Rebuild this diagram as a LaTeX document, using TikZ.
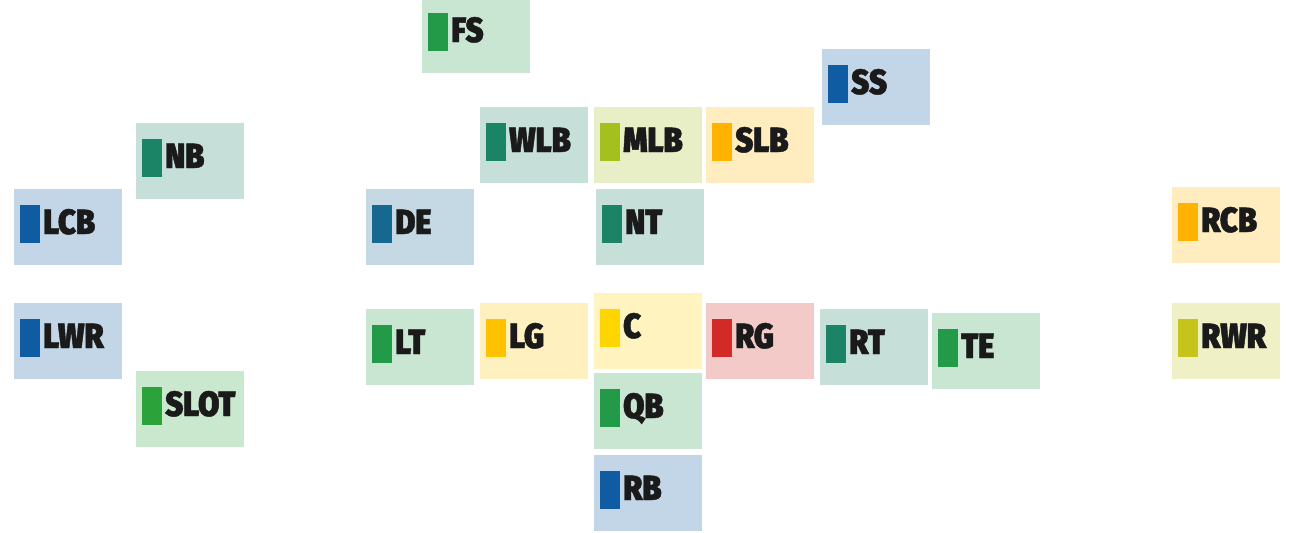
\documentclass[tikz,border=0pt]{standalone}
\usepackage{fontspec}
\newfontfamily\posfont{Fira Sans Black}[FakeStretch=0.88,FakeBold=1.2]
\usetikzlibrary{calc}
\definecolor{cblue}{HTML}{0F5CA3}
\definecolor{cde}{HTML}{176891}
\definecolor{cteal}{HTML}{1B8466}
\definecolor{cgreen}{HTML}{239A48}
\definecolor{cslot}{HTML}{2BA33A}
\definecolor{colive}{HTML}{A3C01E}
\definecolor{crwr}{HTML}{C4C41B}
\definecolor{corange}{HTML}{FFB300}
\definecolor{clg}{HTML}{FFC200}
\definecolor{cc}{HTML}{FFD500}
\definecolor{cred}{HTML}{D22B27}
\definecolor{ink}{HTML}{1A1A1A}
\tikzset{
  posbox/.style={rectangle, anchor=north west, minimum width=108pt, minimum height=76pt, inner sep=0pt, draw=none, fill=#1!25!white},
  poslabel/.style={anchor=base west, inner sep=0pt, text=ink, font=\posfont\fontsize{35}{35}\selectfont}
}
\newcommand\posn[5]{%
  \node[posbox=#4] (#1) at (#2,#3) {};
  \fill[#4] ($(#1.north west)+(6,16)$) rectangle ++(20,38);
  \node[poslabel] (#1-t) at ($(#1.north west)+(29,45)$) {#5};
}
\begin{document}
\begin{tikzpicture}[x=1pt,y=-1pt]
\useasboundingbox (0,0) rectangle (1294,533);
\posn{fs}{422}{-3}{cgreen}{FS}
\posn{ss}{822}{49}{cblue}{SS}
\posn{nb}{136}{123}{cteal}{NB}
\posn{wlb}{480}{107}{cteal}{WLB}
\posn{mlb}{594}{107}{colive}{MLB}
\posn{slb}{706}{107}{corange}{SLB}
\posn{lcb}{14}{189}{cblue}{LCB}
\posn{de}{366}{189}{cde}{DE}
\posn{nt}{596}{189}{cteal}{NT}
\posn{rcb}{1172}{187}{corange}{RCB}
\posn{lwr}{14}{303}{cblue}{LWR}
\posn{lt}{366}{309}{cgreen}{LT}
\posn{lg}{480}{303}{clg}{LG}
\posn{c}{594}{293}{cc}{C}
\posn{rg}{706}{303}{cred}{RG}
\posn{rt}{820}{309}{cteal}{RT}
\posn{te}{932}{313}{cgreen}{TE}
\posn{rwr}{1172}{303}{crwr}{RWR}
\posn{slot}{136}{371}{cslot}{SLOT}
\posn{qb}{594}{373}{cgreen}{QB}
\posn{rb}{594}{455}{cblue}{RB}
\end{tikzpicture}
\end{document}
